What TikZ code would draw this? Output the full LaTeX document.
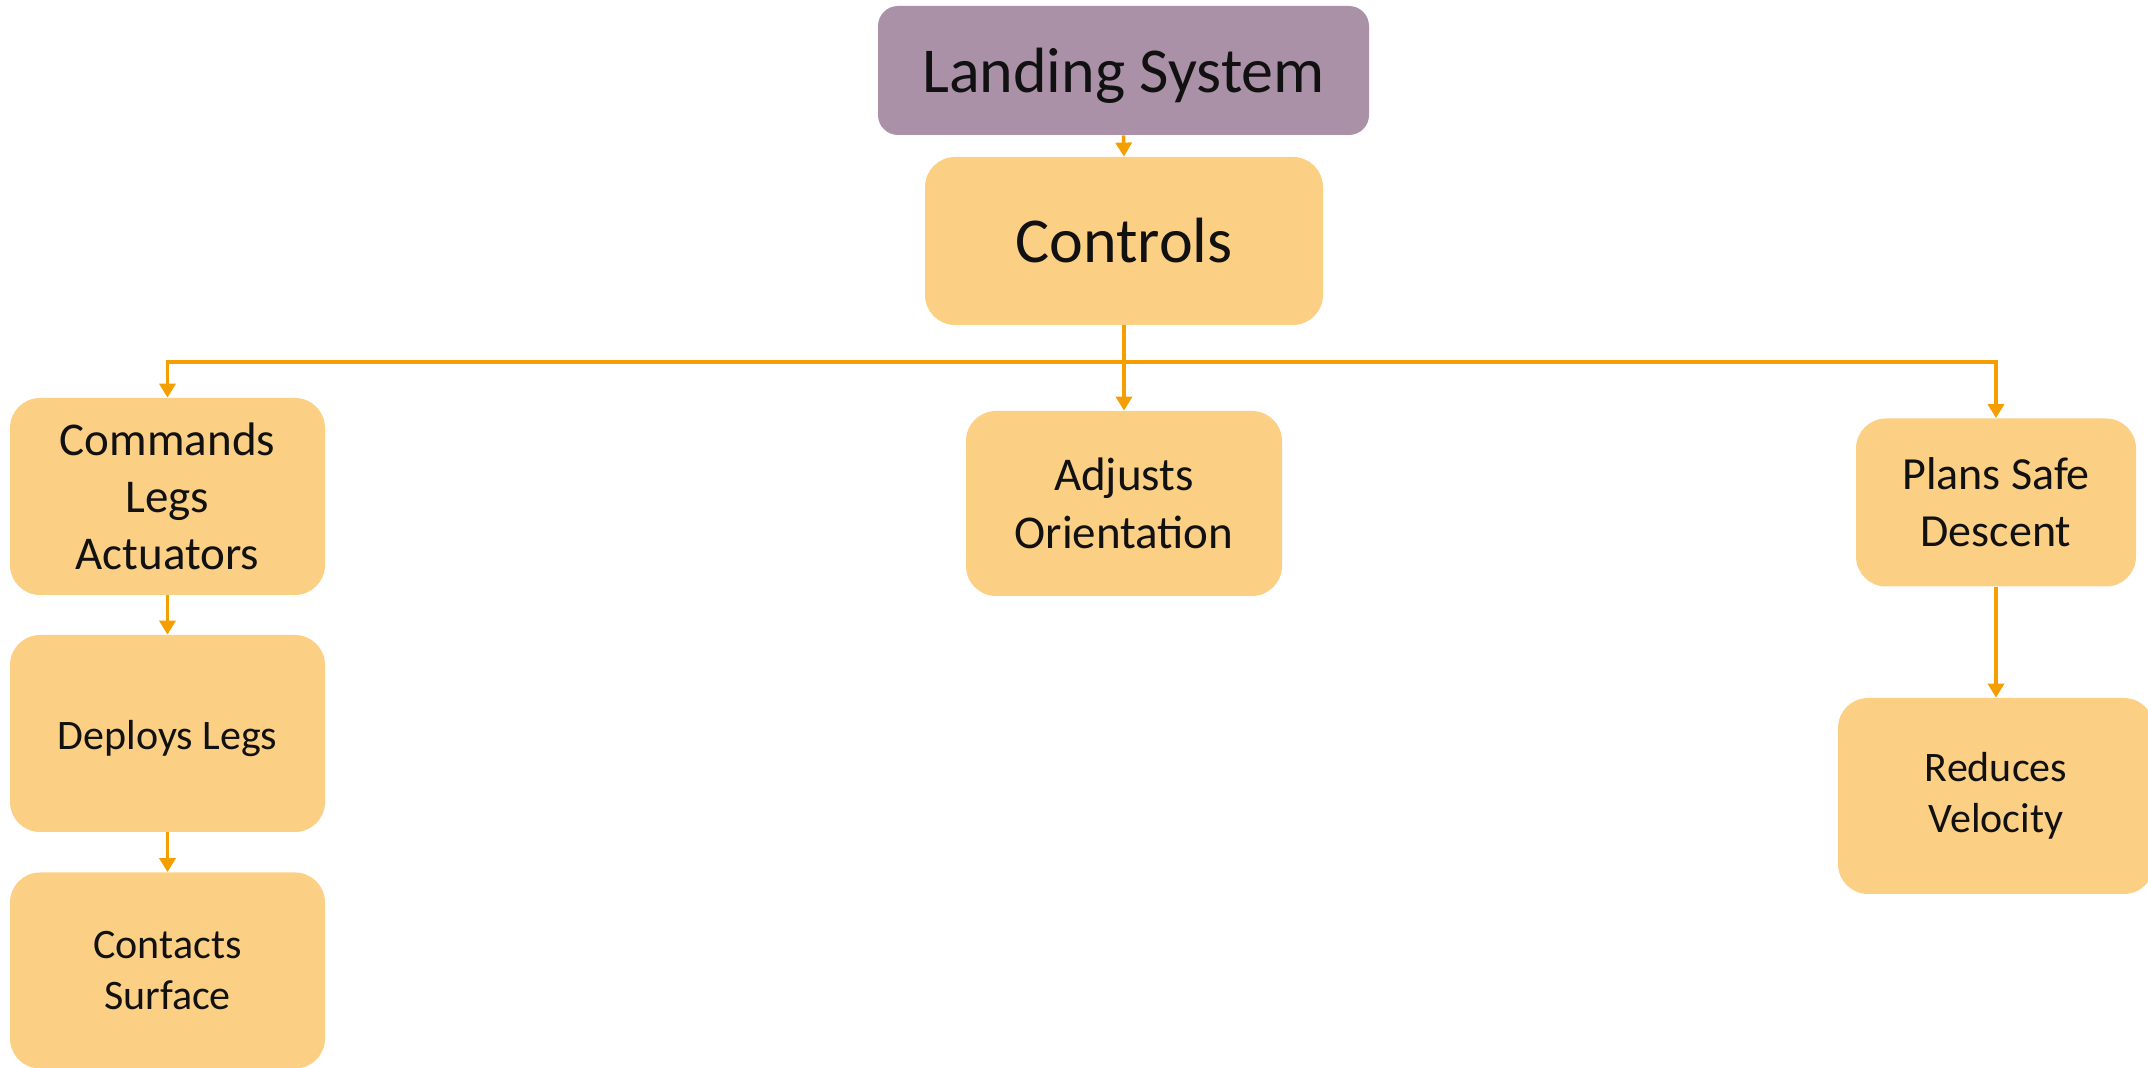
\documentclass[tikz,border=0pt]{standalone}
\usepackage{fontspec}
\setmainfont{Carlito}
\usetikzlibrary{arrows.meta}
\definecolor{boxfill}{RGB}{251,207,132}
\definecolor{rootfill}{RGB}{170,145,167}
\definecolor{wire}{RGB}{245,158,0}
\definecolor{ink}{RGB}{17,17,17}
\tikzset{
  card/.style={rounded corners=15pt, fill=boxfill, draw=none, text=ink,
    align=center, inner sep=0pt, anchor=center},
  rootcard/.style={card, fill=rootfill, rounded corners=10pt},
  link/.style={draw=wire, line width=1.75pt,
    -{Triangle[length=7pt,width=8pt]}},
}
% lower a one-line label without changing the size of its box
\newcommand{\lowered}[2]{\raisebox{-#1}[\height][\depth]{#2}}
\begin{document}
\begin{tikzpicture}[x=0.5pt, y=-0.5pt]
  \useasboundingbox (0,0) rectangle (2148,1068);
  % top of the tree
  \node[rootcard, minimum width=245.5pt, minimum height=64.5pt,
        font=\fontsize{32pt}{39pt}\selectfont] (land) at (1123.5,70.5)
        {\lowered{2.7pt}{Landing System}};
  \node[card, minimum width=199pt, minimum height=84pt,
        font=\fontsize{32pt}{39pt}\selectfont] (ctl) at (1124,241) {Controls};
  % three branches
  \node[card, minimum width=157.5pt, minimum height=98.5pt,
        font=\fontsize{23.5pt}{28.6pt}\selectfont] (cmd) at (167.5,496.5)
        {Commands\\Legs\\Actuators};
  \node[card, minimum width=157.5pt, minimum height=98.5pt,
        font=\fontsize{21pt}{25.5pt}\selectfont] (dep) at (167.5,733.5)
        {\lowered{2.5pt}{Deploys Legs}};
  \node[card, minimum width=157.5pt, minimum height=98pt,
        font=\fontsize{21pt}{25.5pt}\selectfont] (con) at (167.5,970.5)
        {Contacts\\Surface};
  \node[card, minimum width=158pt, minimum height=92.5pt,
        font=\fontsize{23.5pt}{28.8pt}\selectfont] (adj) at (1124,503.5)
        {Adjusts\\Orientation};
  \node[card, minimum width=140pt, minimum height=84pt,
        font=\fontsize{23pt}{28.5pt}\selectfont] (pln) at (1996,502.5)
        {Plans Safe\\Descent};
  \node[card, minimum width=158pt, minimum height=98pt,
        font=\fontsize{21pt}{25.6pt}\selectfont] (red) at (1996,796)
        {Reduces\\Velocity};
  % horizontal bus level
  \coordinate (bus) at (0,362);
  % connectors
  \draw[link] (land.south) -- (ctl.north);
  \draw[link] (ctl.south) -- (adj.north);
  \draw[link] (ctl.south) -- (ctl.south |- bus) -- (cmd.north |- bus) -- (cmd.north);
  \draw[link] (ctl.south) -- (ctl.south |- bus) -- (pln.north |- bus) -- (pln.north);
  \draw[link] (cmd.south) -- (dep.north);
  \draw[link] (dep.south) -- (con.north);
  \draw[link] (pln.south) -- (red.north);
\end{tikzpicture}
\end{document}
